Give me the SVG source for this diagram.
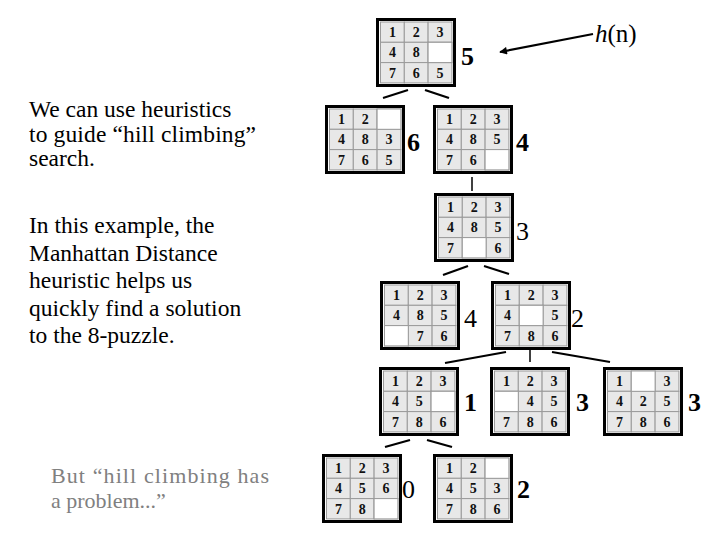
<svg xmlns="http://www.w3.org/2000/svg" xmlns:xlink="http://www.w3.org/1999/xlink" width="720" height="540" viewBox="0 0 720 540">
<style>
.txt{font-family:"Liberation Serif","Times New Roman",serif;font-size:23.5px;fill:#000}
.gray{fill:#808080;font-size:22px}
.n{font-family:"Liberation Serif","Times New Roman",serif;font-size:14px;font-weight:bold;text-anchor:middle;fill:#111}
.h{font-family:"Liberation Serif","Times New Roman",serif;font-size:25px;fill:#000}
.lb{font-family:"Liberation Serif","Times New Roman",serif;font-size:26px;fill:#000}
.hb{font-weight:bold}
.cell{fill:#e8e8e8;stroke:#9a9a9a;stroke-width:1}
.blank{fill:#fff;stroke:#9a9a9a;stroke-width:1}
.con line{stroke:#000;stroke-width:2.2}
</style>
<defs>
<g id="frame">
<rect x="1.5" y="1.5" width="77" height="66" fill="#fff" stroke="#000" stroke-width="3"/>
<rect class="cell" x="4.5" y="4" width="23.8" height="20.3"/>
<rect class="cell" x="28.3" y="4" width="23.8" height="20.3"/>
<rect class="cell" x="52.1" y="4" width="23.8" height="20.3"/>
<rect class="cell" x="4.5" y="24.3" width="23.8" height="20.3"/>
<rect class="cell" x="28.3" y="24.3" width="23.8" height="20.3"/>
<rect class="cell" x="52.1" y="24.3" width="23.8" height="20.3"/>
<rect class="cell" x="4.5" y="44.6" width="23.8" height="20.3"/>
<rect class="cell" x="28.3" y="44.6" width="23.8" height="20.3"/>
<rect class="cell" x="52.1" y="44.6" width="23.8" height="20.3"/>
</g>
<marker id="ah" viewBox="0 0 10 10" refX="9" refY="5" markerWidth="5.5" markerHeight="3.5" orient="auto" markerUnits="strokeWidth"><path d="M0,0 L10,5 L0,10 z" fill="#000"/></marker>
</defs>

<g id="text-left">
<text class="txt" x="29" y="117">We can use heuristics</text>
<text class="txt" x="29" y="142" textLength="227" lengthAdjust="spacing">to guide “hill climbing”</text>
<text class="txt" x="29" y="166">search.</text>
<text class="txt" x="29" y="233">In this example, the</text>
<text class="txt" x="29" y="261">Manhattan Distance</text>
<text class="txt" x="29" y="288">heuristic helps us</text>
<text class="txt" x="29" y="316">quickly find a solution</text>
<text class="txt" x="29" y="343">to the 8-puzzle.</text>
<text class="txt gray" x="51" y="483" textLength="218" lengthAdjust="spacing">But “hill climbing has</text>
<text class="txt gray" x="51" y="508">a problem...”</text>
</g>

<g id="hn-label">
<text class="h" x="595" y="42"><tspan font-style="italic">h</tspan>(n)</text>
</g>

<g class="con" id="connectors">
<line x1="593" y1="34" x2="500" y2="52" marker-end="url(#ah)"/>
<line x1="383" y1="98" x2="408" y2="90"/>
<line x1="425" y1="90" x2="449" y2="98"/>
<line x1="472" y1="177" x2="472" y2="191" style="stroke-width:1.5"/>
<line x1="443" y1="275" x2="468" y2="266"/>
<line x1="484" y1="266" x2="509" y2="274"/>
<line x1="445" y1="363" x2="506" y2="352"/>
<line x1="530" y1="350" x2="530" y2="362" style="stroke-width:1.5"/>
<line x1="552" y1="352" x2="610" y2="362"/>
<line x1="385" y1="447" x2="410" y2="440"/>
<line x1="427" y1="440" x2="452" y2="447"/>
</g>

<g id="b1" transform="translate(376,18)">
<use xlink:href="#frame"/><rect class="blank" x="52.1" y="24.3" width="23.8" height="20.3"/>
<text class="n" x="16.4" y="19">1</text><text class="n" x="40.2" y="19">2</text><text class="n" x="64" y="19">3</text>
<text class="n" x="16.4" y="39.3">4</text><text class="n" x="40.2" y="39.3">8</text>
<text class="n" x="16.4" y="59.6">7</text><text class="n" x="40.2" y="59.6">6</text><text class="n" x="64" y="59.6">5</text>
<text class="lb hb" x="85" y="47">5</text>
</g>

<g id="b2" transform="translate(325,105)">
<use xlink:href="#frame"/><rect class="blank" x="52.1" y="4" width="23.8" height="20.3"/>
<text class="n" x="16.4" y="19">1</text><text class="n" x="40.2" y="19">2</text>
<text class="n" x="16.4" y="39.3">4</text><text class="n" x="40.2" y="39.3">8</text><text class="n" x="64" y="39.3">3</text>
<text class="n" x="16.4" y="59.6">7</text><text class="n" x="40.2" y="59.6">6</text><text class="n" x="64" y="59.6">5</text>
<text class="lb hb" x="82" y="46">6</text>
</g>

<g id="b3" transform="translate(433,105)">
<use xlink:href="#frame"/><rect class="blank" x="52.1" y="44.6" width="23.8" height="20.3"/>
<text class="n" x="16.4" y="19">1</text><text class="n" x="40.2" y="19">2</text><text class="n" x="64" y="19">3</text>
<text class="n" x="16.4" y="39.3">4</text><text class="n" x="40.2" y="39.3">8</text><text class="n" x="64" y="39.3">5</text>
<text class="n" x="16.4" y="59.6">7</text><text class="n" x="40.2" y="59.6">6</text>
<text class="lb hb" x="83" y="46">4</text>
</g>

<g id="b4" transform="translate(434,193)">
<use xlink:href="#frame"/><rect class="blank" x="28.3" y="44.6" width="23.8" height="20.3"/>
<text class="n" x="16.4" y="19">1</text><text class="n" x="40.2" y="19">2</text><text class="n" x="64" y="19">3</text>
<text class="n" x="16.4" y="39.3">4</text><text class="n" x="40.2" y="39.3">8</text><text class="n" x="64" y="39.3">5</text>
<text class="n" x="16.4" y="59.6">7</text><text class="n" x="64" y="59.6">6</text>
<text class="lb" x="82" y="47">3</text>
</g>

<g id="b5" transform="translate(380,281)">
<use xlink:href="#frame"/><rect class="blank" x="4.5" y="44.6" width="23.8" height="20.3"/>
<text class="n" x="16.4" y="19">1</text><text class="n" x="40.2" y="19">2</text><text class="n" x="64" y="19">3</text>
<text class="n" x="16.4" y="39.3">4</text><text class="n" x="40.2" y="39.3">8</text><text class="n" x="64" y="39.3">5</text>
<text class="n" x="40.2" y="59.6">7</text><text class="n" x="64" y="59.6">6</text>
<text class="lb" x="84" y="46">4</text>
</g>

<g id="b6" transform="translate(491,281)">
<use xlink:href="#frame"/><rect class="blank" x="28.3" y="24.3" width="23.8" height="20.3"/>
<text class="n" x="16.4" y="19">1</text><text class="n" x="40.2" y="19">2</text><text class="n" x="64" y="19">3</text>
<text class="n" x="16.4" y="39.3">4</text><text class="n" x="64" y="39.3">5</text>
<text class="n" x="16.4" y="59.6">7</text><text class="n" x="40.2" y="59.6">8</text><text class="n" x="64" y="59.6">6</text>
<text class="lb" x="80" y="46">2</text>
</g>

<g id="b7" transform="translate(379,367)">
<use xlink:href="#frame"/><rect class="blank" x="52.1" y="24.3" width="23.8" height="20.3"/>
<text class="n" x="16.4" y="19">1</text><text class="n" x="40.2" y="19">2</text><text class="n" x="64" y="19">3</text>
<text class="n" x="16.4" y="39.3">4</text><text class="n" x="40.2" y="39.3">5</text>
<text class="n" x="16.4" y="59.6">7</text><text class="n" x="40.2" y="59.6">8</text><text class="n" x="64" y="59.6">6</text>
<text class="lb hb" x="85" y="44">1</text>
</g>

<g id="b8" transform="translate(490,367)">
<use xlink:href="#frame"/><rect class="blank" x="4.5" y="24.3" width="23.8" height="20.3"/>
<text class="n" x="16.4" y="19">1</text><text class="n" x="40.2" y="19">2</text><text class="n" x="64" y="19">3</text>
<text class="n" x="40.2" y="39.3">4</text><text class="n" x="64" y="39.3">5</text>
<text class="n" x="16.4" y="59.6">7</text><text class="n" x="40.2" y="59.6">8</text><text class="n" x="64" y="59.6">6</text>
<text class="lb hb" x="86" y="44">3</text>
</g>

<g id="b9" transform="translate(603,367)">
<use xlink:href="#frame"/><rect class="blank" x="28.3" y="4" width="23.8" height="20.3"/>
<text class="n" x="16.4" y="19">1</text><text class="n" x="64" y="19">3</text>
<text class="n" x="16.4" y="39.3">4</text><text class="n" x="40.2" y="39.3">2</text><text class="n" x="64" y="39.3">5</text>
<text class="n" x="16.4" y="59.6">7</text><text class="n" x="40.2" y="59.6">8</text><text class="n" x="64" y="59.6">6</text>
<text class="lb hb" x="85" y="44">3</text>
</g>

<g id="b10" transform="translate(322,454)">
<use xlink:href="#frame"/><rect class="blank" x="52.1" y="44.6" width="23.8" height="20.3"/>
<text class="n" x="16.4" y="19">1</text><text class="n" x="40.2" y="19">2</text><text class="n" x="64" y="19">3</text>
<text class="n" x="16.4" y="39.3">4</text><text class="n" x="40.2" y="39.3">5</text><text class="n" x="64" y="39.3">6</text>
<text class="n" x="16.4" y="59.6">7</text><text class="n" x="40.2" y="59.6">8</text>
<text class="lb" x="80" y="44">0</text>
</g>

<g id="b11" transform="translate(433,454)">
<use xlink:href="#frame"/><rect class="blank" x="52.1" y="4" width="23.8" height="20.3"/>
<text class="n" x="16.4" y="19">1</text><text class="n" x="40.2" y="19">2</text>
<text class="n" x="16.4" y="39.3">4</text><text class="n" x="40.2" y="39.3">5</text><text class="n" x="64" y="39.3">3</text>
<text class="n" x="16.4" y="59.6">7</text><text class="n" x="40.2" y="59.6">8</text><text class="n" x="64" y="59.6">6</text>
<text class="lb hb" x="84" y="44">2</text>
</g>
</svg>
